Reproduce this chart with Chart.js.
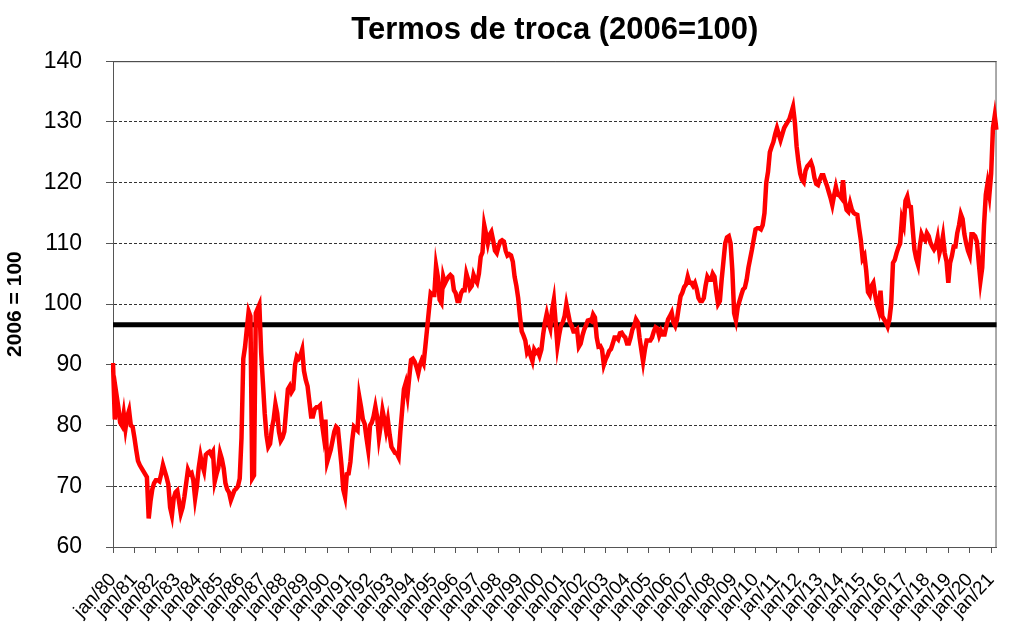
<!DOCTYPE html>
<html>
<head>
<meta charset="utf-8">
<script src="https://cdn.jsdelivr.net/npm/chart.js@4.4.1/dist/chart.umd.min.js"></script>
<style>
  html, body { margin: 0; padding: 0; background: #fff; }
  #wrap { width: 1024px; height: 632px; }
</style>
</head>
<body>
<div id="wrap"><canvas id="grafico"></canvas></div>
<script>
// Termos de troca, indice mensal (2006=100), jan/80 a abr/21
const meses = ['jan','fev','mar','abr','mai','jun','jul','ago','set','out','nov','dez'];
const primeiroAno = 1980;

const y1980 = [90.3, 81, 85, 83, 80.5, 80, 82, 79.5, 81.5, 82.5, 80, 79.8];
const y1981 = [78, 76, 74.2, 73.5, 73, 72.5, 72, 71.5, 64.7, 67.5, 69.5, 70.5];
const y1982 = [71, 71, 70.8, 72, 73.5, 72.5, 71.5, 70.3, 66.5, 65.2, 68, 69];
const y1983 = [69.3, 67.5, 65.5, 66.5, 68.3, 70.5, 72.7, 72, 72.2, 71, 68, 70];
const y1984 = [73, 75, 73.5, 72.5, 75.2, 75.5, 75.7, 75.2, 75.7, 70.8, 72, 73];
const y1985 = [75.5, 74.5, 73, 70.5, 69.5, 69, 67.7, 68.5, 69.3, 69.6, 70, 71.3];
const y1986 = [78, 91, 93, 96, 98.8, 98, 71.3, 71.8, 98.5, 99.2, 99.9, 92];
const y1987 = [87, 82, 78.4, 76.5, 77, 79.5, 81, 83.5, 82, 79, 77.5, 78];
const y1988 = [79, 82.5, 86, 86.5, 85.5, 86, 90, 91.4, 91, 91.5, 92.5, 89];
const y1989 = [87.5, 86.5, 84, 81.5, 81.5, 82.7, 83, 83, 83.3, 80.5, 78.4, 81];
const y1990 = [74, 75, 76, 77.5, 79, 79.8, 79.5, 76.5, 73.5, 69.5, 68.3, 72];
const y1991 = [72.1, 74, 77.5, 79.8, 79.5, 79.2, 84.7, 83, 81, 80.3, 78, 76];
const y1992 = [80, 80.5, 81.5, 83.1, 81.4, 78, 80, 82.5, 81, 79.2, 80.9, 78.5];
const y1993 = [76.5, 76, 75.5, 75.4, 74.8, 79, 82.5, 86, 87, 85, 88, 90.8];
const y1994 = [91, 90.5, 89.7, 88.6, 90, 90.8, 90.2, 93, 96, 99, 101.8, 101.5];
const y1995 = [101.5, 106.3, 104.5, 100.7, 100.2, 104.5, 103.4, 104, 104.5, 104.8, 104.5, 102.3];
const y1996 = [101.8, 100.5, 100.5, 101.8, 102.3, 102.3, 105, 104, 102.6, 103, 104.8, 104];
const y1997 = [103.5, 105, 107.8, 108.5, 113, 111.6, 110, 111.4, 111.9, 110.5, 108.8, 108.4];
const y1998 = [109.5, 110.3, 110.5, 110.3, 108.8, 108, 108.2, 108, 107, 104.5, 103, 101];
const y1999 = [98, 95.5, 94.8, 94, 92, 92.5, 91.5, 90.6, 92.5, 92, 92.3, 91.5];
const y2000 = [92.5, 95, 97, 98.4, 97, 96, 99, 100.7, 97, 93.1, 95, 96.5];
const y2001 = [97, 98, 100, 98.5, 97, 96.4, 95.5, 95.5, 95.8, 93, 93.5, 94.8];
const y2002 = [95.8, 96.5, 97.3, 97.4, 97.2, 98.3, 97.8, 94.5, 93, 93.1, 92.5, 90];
const y2003 = [90.9, 91.5, 92.3, 92.6, 93.5, 94.5, 94.5, 94.2, 95.2, 95.3, 94.8, 94.5];
const y2004 = [93.5, 93.5, 94.5, 95.8, 96.4, 97.5, 97, 94.5, 92.5, 90.5, 92.5, 94];
const y2005 = [94, 94, 94.5, 95.5, 96.2, 96, 94.8, 95.6, 95, 95, 96.3, 97.5];
const y2006 = [98, 98.6, 97, 96.4, 97.5, 99.5, 101.3, 101.9, 102.8, 103.2, 104.5, 103.5];
const y2007 = [103.5, 103, 103.5, 102.5, 101, 100.5, 100.5, 101, 103, 104.5, 104, 104];
const y2008 = [105, 104.5, 102, 100, 100.5, 104, 107, 110, 111, 111.2, 110, 105.5];
const y2009 = [98.5, 97.3, 99.5, 100.5, 101.5, 102.4, 102.7, 104, 106, 107.5, 109, 110.7];
const y2010 = [112.3, 112.5, 112.5, 112.3, 113, 115, 120, 121.8, 125, 125.9, 126.7, 128];
const y2011 = [129, 128, 127, 128, 129, 129.5, 130, 130.5, 131.5, 132.5, 130, 126];
const y2012 = [123.5, 121.5, 120.5, 120.1, 122, 122.7, 123, 123.4, 122.5, 120.8, 119.8, 119.6];
const y2013 = [120.5, 121.2, 121.2, 120.3, 119.5, 118.5, 117.5, 116.3, 117.9, 119.3, 118, 117.9];
const y2014 = [117.5, 120.4, 117, 115.5, 115.2, 116.6, 115.5, 115, 114.8, 114.7, 112.5, 110.5];
const y2015 = [107.5, 108, 105.5, 102, 101.5, 103, 103.5, 101.5, 100, 99, 102.2, 98];
const y2016 = [97.5, 97, 96.3, 97.5, 100, 106.8, 107.3, 108.4, 109.3, 110, 114, 113];
const y2017 = [117, 117.7, 116.1, 116, 112.5, 109, 107.5, 106.5, 109.5, 111.5, 110.8, 110.5];
const y2018 = [111.7, 111.2, 110.1, 109.5, 109, 109.5, 110.9, 108.4, 109.5, 111.2, 108.4, 107];
const y2019 = [103.5, 106.8, 107.9, 109.5, 109.5, 111.7, 113, 114.8, 114, 111.5, 110, 108.8];
const y2020 = [108, 111.5, 111.5, 111.2, 110.3, 107, 103.8, 106, 113, 118, 119.9, 118];
const y2021 = [121.5, 129, 131, 128.7];

const termosTroca = [].concat(
  y1980, y1981, y1982, y1983, y1984, y1985, y1986, y1987, y1988, y1989,
  y1990, y1991, y1992, y1993, y1994, y1995, y1996, y1997, y1998, y1999,
  y2000, y2001, y2002, y2003, y2004, y2005, y2006, y2007, y2008, y2009,
  y2010, y2011, y2012, y2013, y2014, y2015, y2016, y2017, y2018, y2019,
  y2020, y2021
);

// media do periodo (linha preta)
const media = 96.6;

const yMin = 60, yMax = 140, yPasso = 10;

const rotulos = termosTroca.map((v, i) => {
  const ano = primeiroAno + Math.floor(i / 12);
  return meses[i % 12] + '/' + String(ano).slice(2);
});
const linhaMedia = termosTroca.map(() => media);

const fonte = "'Liberation Sans', Arial, sans-serif";

// moldura da area do grafico
const moldura = {
  id: 'moldura',
  beforeDatasetsDraw(chart) {
    const a = chart.chartArea, c = chart.ctx;
    c.save();
    c.strokeStyle = '#555';
    c.lineWidth = 1;
    c.strokeRect(a.left + 0.5, a.top + 0.5, a.right - a.left - 1, a.bottom - a.top);
    c.restore();
  }
};

new Chart(document.getElementById('grafico'), {
  type: 'line',
  data: {
    labels: rotulos,
    datasets: [
      {
        label: 'Termos de troca',
        data: termosTroca,
        borderColor: '#ff0000',
        borderWidth: 4.5,
        pointRadius: 0,
        tension: 0
      },
      {
        label: 'Média',
        data: linhaMedia,
        borderColor: '#000000',
        borderWidth: 5,
        pointRadius: 0
      }
    ]
  },
  options: {
    responsive: true,
    maintainAspectRatio: false,
    animation: false,
    layout: { padding: { left: 0, right: 26, top: 0, bottom: 0 } },
    plugins: {
      legend: { display: false },
      tooltip: { enabled: false },
      title: {
        display: true,
        fullSize: false,
        text: 'Termos de troca (2006=100)',
        color: '#000',
        font: { family: fonte, size: 31, weight: 'bold' },
        padding: { top: 12, bottom: 12 }
      }
    },
    scales: {
      x: {
        afterBuildTicks(scale) {
          scale.ticks = scale.ticks.filter(t => t.value % 12 === 0);
        },
        afterFit(scale) { scale.height = 85; },
        ticks: {
          autoSkip: false,
          minRotation: 47,
          maxRotation: 47,
          color: '#000',
          padding: 16,
          font: { family: fonte, size: 19 }
        },
        grid: {
          drawOnChartArea: false,
          drawTicks: true,
          tickLength: 6,
          color: '#555'
        },
        border: { color: '#555', width: 1 }
      },
      y: {
        min: yMin,
        max: yMax,
        afterFit(scale) { scale.width = 113; },
        title: {
          display: true,
          text: '2006 = 100',
          color: '#000',
          font: { family: fonte, size: 21, weight: 'bold' },
          padding: { top: 3, bottom: 0 }
        },
        ticks: {
          stepSize: yPasso,
          color: '#000',
          padding: 24,
          font: { family: fonte, size: 23 }
        },
        grid: {
          color: '#333',
          lineWidth: 1,
          tickLength: 7,
          tickColor: '#555'
        },
        border: {
          color: '#555',
          width: 1,
          dash: (ctx) => (ctx.tick && (ctx.tick.value === yMax || ctx.tick.value === yMin)) ? [] : [3, 2]
        }
      }
    }
  },
  plugins: [moldura]
});
</script>
</body>
</html>
